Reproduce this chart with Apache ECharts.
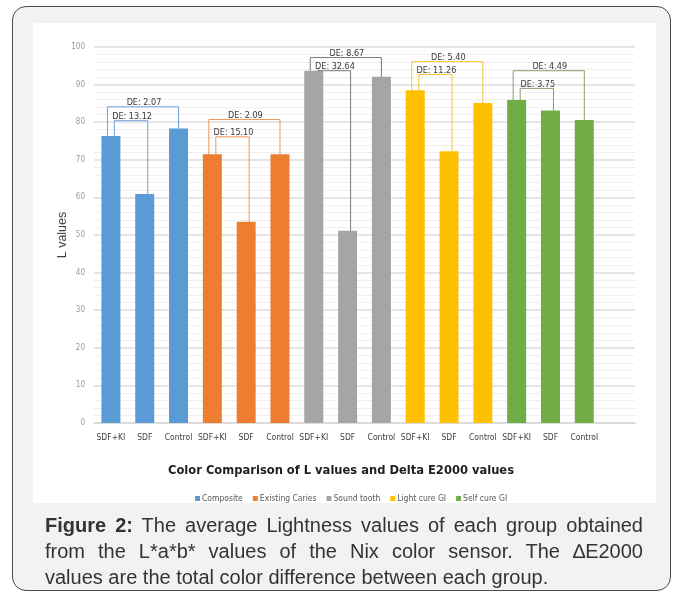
<!DOCTYPE html>
<html>
<head>
<meta charset="utf-8">
<script src="https://cdn.jsdelivr.net/npm/echarts@6/dist/echarts.min.js"></script>
<style>
  html, body { margin: 0; padding: 0; background: #ffffff; }
  body { width: 683px; height: 594px; position: relative; overflow: hidden; }
  #box { position: absolute; left: 12px; top: 6px; width: 657px; height: 583px;
         border: 1.5px solid #4a4a4a; border-radius: 14px; background: #f1f2f4; }
  #panel { position: absolute; left: 33px; top: 23px; width: 623px; height: 480px; background: #ffffff; }
  #chart { position: absolute; left: 0; top: 0; width: 683px; height: 594px; }
  #caption { position: absolute; left: 45px; top: 512px; width: 598px;
             font-family: 'Liberation Sans', Arial, sans-serif; font-size: 20px;
             line-height: 26px; color: #333333; }
  #caption .j { text-align: justify; text-align-last: justify; white-space: nowrap; }
  #caption .l { text-align: left; white-space: nowrap; }
</style>
</head>
<body>
<div id="box"></div>
<div id="panel"></div>
<div id="chart"></div>
<div id="caption">
  <div class="j"><b>Figure 2:</b> The average Lightness values of each group obtained</div>
  <div class="j">from the L*a*b* values of the Nix color sensor. The ∆E2000</div>
  <div class="l">values are the total color difference between each group.</div>
</div>
<script>
// ---- data ----
const groups = ['Composite', 'Existing Caries', 'Sound tooth', 'Light cure GI', 'Self cure GI'];
const treatments = ['SDF+KI', 'SDF', 'Control'];
const composite      = [76.3, 60.9, 78.3];
const existingCaries = [71.5, 53.5, 71.5];
const soundTooth     = [93.7, 51.1, 92.1];
const lightCureGI    = [88.5, 72.3, 85.1];
const selfCureGI     = [85.9, 83.1, 80.6];
// Delta E2000 between SDF+KI and Control (outer) and SDF+KI and SDF (inner)
const deOuter = ['2.07', '2.09', '8.67', '5.40', '4.49'];
const deInner = ['13.12', '15.10', '32.64', '11.26', '3.75'];
// height (L value) of the connecting brackets
const outerLevel = [84.1, 80.7, 97.2, 96.1, 93.7];
const innerLevel = [80.4, 76.1, 93.7, 92.7, 89.0];
const yMin = 0, yMax = 100, yStep = 10;

// ---- build ----
const seriesValues = [composite, existingCaries, soundTooth, lightCureGI, selfCureGI];
const barColors = ['#5b9bd5', '#ed7d31', '#a5a5a5', '#ffc000', '#70ad47'];
const bracketColors = ['#6fa3dc', '#f0955a', '#7a7a7a', '#f5c43a', '#8c9c68'];
const categories = [];
groups.forEach(() => treatments.forEach(t => categories.push(t)));
const xCats = categories.concat(['']);

const barSeries = groups.map((g, gi) => {
  const d = xCats.map(() => '-');
  seriesValues[gi].forEach((v, k) => { d[gi * 3 + k] = v; });
  return {
    name: g, type: 'bar', stack: 'all', data: d, barWidth: 19,
    itemStyle: { color: barColors[gi] }, z: 2
  };
});

const bracketData = [];
const bracketLabels = [];
groups.forEach((g, gi) => {
  const v = seriesValues[gi];
  bracketData.push([gi, gi * 3, gi * 3 + 2, outerLevel[gi], v[0], v[2], 0]);
  bracketLabels.push('DE: ' + deOuter[gi]);
  bracketData.push([gi, gi * 3, gi * 3 + 1, innerLevel[gi], v[0], v[1], 1]);
  bracketLabels.push('DE: ' + deInner[gi]);
});

const FONT = "'Liberation Sans Narrow', 'DejaVu Sans Condensed', sans-serif";

const chart = echarts.init(document.getElementById('chart'), null, { renderer: 'canvas' });
chart.setOption({
  backgroundColor: 'transparent',
  animation: false,
  title: {
    text: 'Color Comparison of L values and Delta E2000 values',
    left: 336, top: 459, textAlign: 'center',
    textStyle: { fontFamily: FONT, fontWeight: 'bold', fontSize: 12.8, color: '#1f1f1f' }
  },
  legend: {
    data: groups, left: 190, top: 489, icon: 'rect', itemWidth: 5, itemHeight: 5, itemGap: 10,
    textStyle: { fontFamily: FONT, fontSize: 8.5, color: '#595959', padding: [0, 0, 0, -3] }
  },
  grid: { left: 94, right: 48, top: 47, bottom: 171, containLabel: false },
  xAxis: {
    type: 'category', data: xCats,
    axisLine: { show: true, lineStyle: { color: '#d9d9d9', width: 1.5 } },
    axisTick: { show: false },
    axisLabel: { fontFamily: FONT, fontSize: 8.5, color: '#404040', margin: 10, interval: 0 }
  },
  yAxis: {
    type: 'value', min: yMin, max: yMax, interval: yStep,
    name: 'L values', nameLocation: 'middle', nameGap: 25, nameRotate: 90, nameMoveOverlap: false,
    nameTextStyle: { fontFamily: "'Liberation Sans', sans-serif", fontSize: 12.5, color: '#404040' },
    axisLine: { show: false }, axisTick: { show: false },
    axisLabel: { fontFamily: FONT, fontSize: 8, color: '#9a9a9a', margin: 9 },
    splitLine: { lineStyle: { color: '#dcdcdc', width: 1.5 } },
    minorTick: { show: false, splitNumber: 5 },
    minorSplitLine: { show: true, lineStyle: { color: '#efefef', width: 1 } }
  },
  series: barSeries.concat([{
    type: 'custom', name: 'brackets', z: 5, clip: false, silent: true,
    encode: { x: 1, y: 3 },
    data: bracketData,
    renderItem: function (params, api) {
      const gi = api.value(0), li = api.value(1), ri = api.value(2);
      const lvl = api.value(3), lTop = api.value(4), rTop = api.value(5), kind = api.value(6);
      const pL = api.coord([li, lTop]);
      const pR = api.coord([ri, rTop]);
      const yl = api.coord([li, lvl])[1];
      const offL = kind === 0 ? -3.5 : 3.5;
      const offR = kind === 0 ? 0 : 3;
      const xl = pL[0] + offL, xr = pR[0] + offR;
      const col = bracketColors[gi];
      return {
        type: 'group',
        children: [
          { type: 'polyline',
            shape: { points: [[xl, pL[1]], [xl, yl], [xr, yl], [xr, pR[1]]] },
            style: { stroke: col, lineWidth: 1, fill: null } },
          { type: 'text',
            style: { x: (xl + xr) / 2 + 1, y: yl - 4, text: bracketLabels[params.dataIndex],
                     align: 'center', verticalAlign: 'middle',
                     font: "9px 'Liberation Sans Narrow', 'DejaVu Sans Condensed', sans-serif",
                     fill: '#3a3a3a' } }
        ]
      };
    }
  }])
});
</script>
</body>
</html>
